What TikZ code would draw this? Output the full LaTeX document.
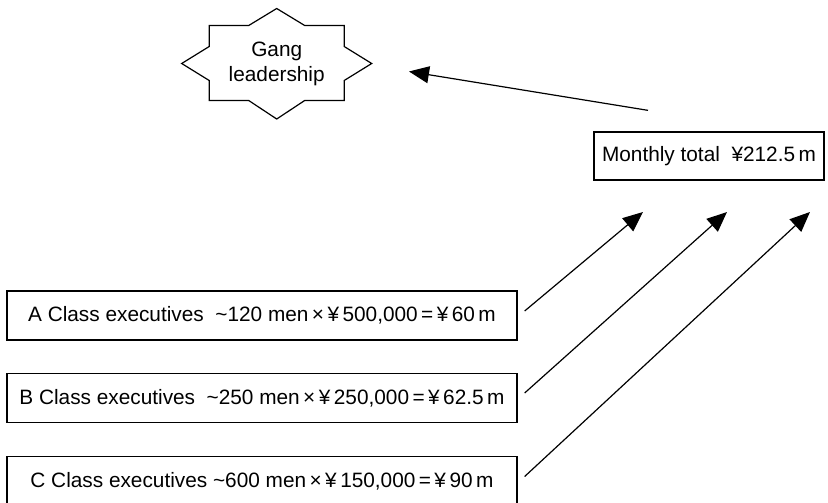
\documentclass[tikz,border=0pt]{standalone}
\usepackage{fontspec}
\setmainfont{Liberation Sans}
\usetikzlibrary{arrows.meta,calc}
\begin{document}
\begin{tikzpicture}[x=1pt,y=-1pt,
  every node/.style={font=\fontsize{20.8}{25}\selectfont, inner sep=0pt},
  box/.style={draw, line width=1.3pt, minimum height=49pt, anchor=center},
  conn/.style={line width=1.2pt, -{Triangle[length=20pt,width=17pt]}},
  outline/.style={line width=1.2pt, line join=miter}]
\useasboundingbox (0,0) rectangle (828,503);
% Gang leadership (star outline)
\node[align=center] (lead) at (276.7,63.5) {Gang\\leadership};
\draw[outline] ($(lead)+(0,-55)$) -- ($(lead)+(-28,-38)$) -- ($(lead)+(-67.5,-38)$)
  -- ($(lead)+(-67.5,-17)$) -- ($(lead)+(-95,0)$) -- ($(lead)+(-67.5,17)$)
  -- ($(lead)+(-67.5,37)$) -- ($(lead)+(-28,37)$) -- ($(lead)+(0,55.5)$)
  -- ($(lead)+(28,37)$) -- ($(lead)+(67.5,37)$) -- ($(lead)+(67.5,17)$)
  -- ($(lead)+(95,0)$) -- ($(lead)+(67.5,-17)$) -- ($(lead)+(67.5,-38)$)
  -- ($(lead)+(28,-38)$) -- cycle;
% Monthly total
\node[box, minimum width=230pt, minimum height=48pt] (tot) at (709,156) {Monthly total\ \ ¥212.5\,m};
% Class boxes
\node[box, minimum width=510pt] (A) at (262,315.5) {A Class executives\ \ \textasciitilde120 men\,×\,¥\,500,000\,=\,¥\,60\,m};
\node[box, minimum width=510pt] (B) at (262,398) {B Class executives\ \ \textasciitilde250 men\,×\,¥\,250,000\,=\,¥\,62.5\,m};
\node[box, minimum width=510pt] (C) at (262,481) {C Class executives \textasciitilde600 men\,×\,¥\,150,000\,=\,¥\,90\,m};
% free ends
\coordinate (ta) at ($(A.east)+(7,-4.5)$);
\coordinate (tb) at ($(B.east)+(7,-5)$);
\coordinate (tc) at ($(C.east)+(7,-4.5)$);
\coordinate (ha) at (643,212);
\coordinate (hb) at (727,212);
\coordinate (hc) at (810,212);
\coordinate (tt) at ($(tot.north)+(-61,-21)$);
\coordinate (hl) at (409,71.5);
% connectors
\draw[conn] (ta) -- (ha);
\draw[conn] (tb) -- (hb);
\draw[conn] (tc) -- (hc);
\draw[conn] (tt) -- (hl);
\end{tikzpicture}
\end{document}
